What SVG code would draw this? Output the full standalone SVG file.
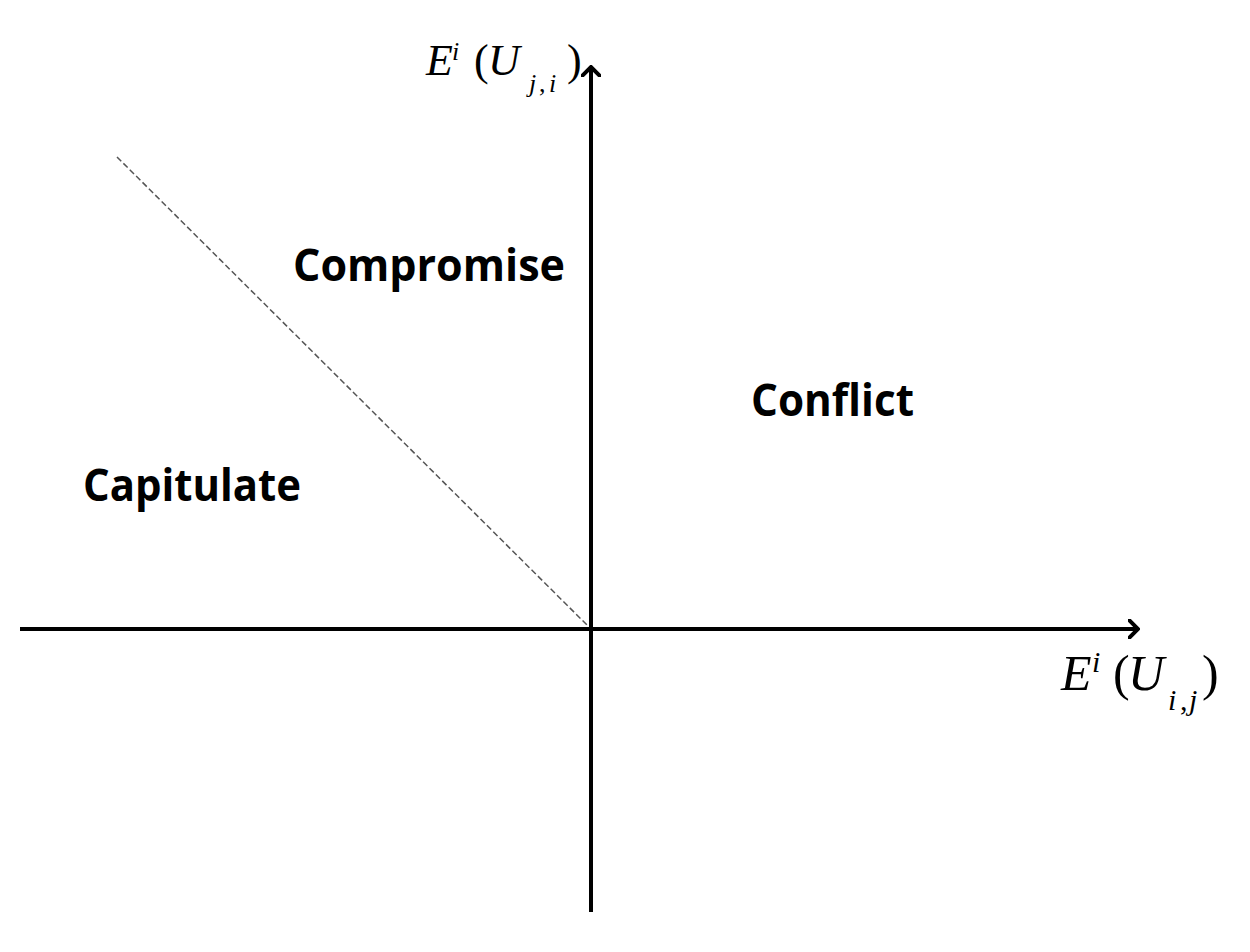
<svg xmlns="http://www.w3.org/2000/svg" width="1250" height="952" viewBox="0 0 1250 952">
<style>
.lbl{font-family:"Open Sans","Liberation Sans",sans-serif;font-weight:bold;font-size:44px;fill:#000}
.m{font-family:"Liberation Serif","Times New Roman",serif;fill:#000}
.it{font-style:italic}
.axis{stroke:#000;stroke-width:4;fill:none}
</style>
<defs>
<marker id="ah" viewBox="0 0 12 20" refX="10" refY="10" markerWidth="12" markerHeight="20" markerUnits="userSpaceOnUse" orient="auto">
<path d="M0,0 L10,10 L0,20" fill="none" stroke="#000" stroke-width="4"/>
</marker>
</defs>
<rect width="1250" height="952" fill="#fff"/>
<g id="connectors">
<line class="axis" x1="20" y1="629" x2="1138" y2="629" marker-end="url(#ah)"/>
<line class="axis" x1="591" y1="912" x2="591" y2="67" marker-end="url(#ah)"/>
<line x1="117" y1="157" x2="588" y2="626" stroke="#555" stroke-width="1.5" stroke-dasharray="6,3"/>
</g>
<g id="compromise"><text class="lbl" x="293" y="281" textLength="272" lengthAdjust="spacingAndGlyphs">Compromise</text></g>
<g id="conflict"><text class="lbl" x="751" y="416" textLength="163" lengthAdjust="spacingAndGlyphs">Conflict</text></g>
<g id="capitulate"><text class="lbl" x="83" y="501" textLength="218" lengthAdjust="spacingAndGlyphs">Capitulate</text></g>
<g id="y-label">
<text class="m it" x="426" y="75" font-size="44">E</text>
<text class="m it" x="452" y="60" font-size="26">i</text>
<text class="m" x="474" y="75" font-size="44">(</text>
<text class="m it" x="488" y="75" font-size="44">U</text>
<text class="m it" x="529" y="92" font-size="26">j</text>
<text class="m" x="539" y="92" font-size="26">,</text>
<text class="m it" x="549" y="92" font-size="26">i</text>
<text class="m" x="567" y="75" font-size="44">)</text>
</g>
<g id="x-label">
<text class="m it" x="1061" y="690" font-size="50">E</text>
<text class="m it" x="1092" y="672" font-size="30">i</text>
<text class="m" x="1113" y="690" font-size="50">(</text>
<text class="m it" x="1128" y="690" font-size="50">U</text>
<text class="m it" x="1168" y="710" font-size="30">i</text>
<text class="m" x="1180" y="710" font-size="30">,</text>
<text class="m it" x="1189" y="710" font-size="30">j</text>
<text class="m" x="1202" y="690" font-size="50">)</text>
</g>
</svg>
